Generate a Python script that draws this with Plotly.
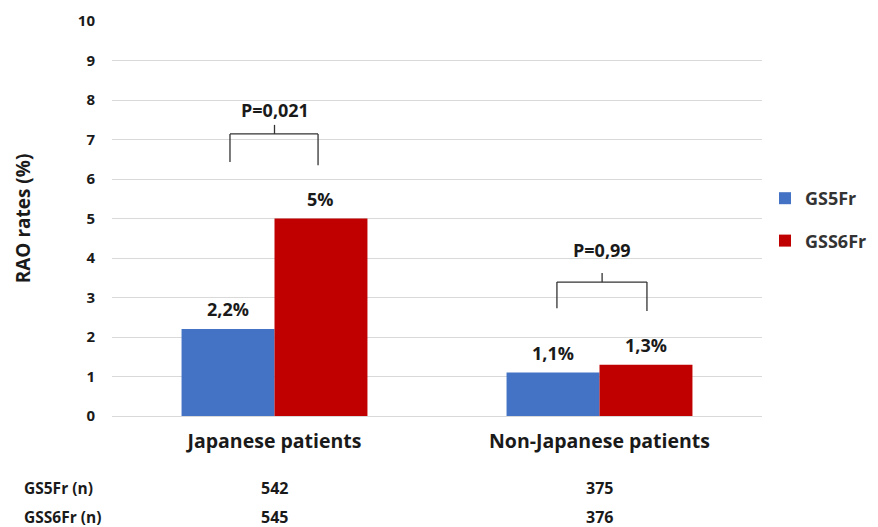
import plotly.graph_objects as go

categories = ["Japanese patients", "Non-Japanese patients"]
gs5fr_rates = [2.2, 1.1]
gss6fr_rates = [5.0, 1.3]
gs5fr_labels = ["2,2%", "1,1%"]
gss6fr_labels = ["5%", "1,3%"]
gs5fr_n = [542, 375]
gss6fr_n = [545, 376]
p_values = ["P=0,021", "P=0,99"]
y_ticks = list(range(0, 11))

FONT = "Open Sans"
TXT = "#1a1a1a"

# page has an 8px body margin; figure sized so it fits the 878x527 window
W, H = 870, 519
L, R, T, B = 104, 116, 13, 111
PH = H - T - B

fig = go.Figure()
fig.add_trace(go.Bar(x=categories, y=gs5fr_rates, name="GS5Fr",
                     marker_color="#4472C4", marker_line_width=0, legendgroup="a"))
fig.add_trace(go.Bar(x=categories, y=gss6fr_rates, name="GSS6Fr",
                     marker_color="#C00000", marker_line_width=0, legendgroup="b"))

# value labels above bars (bar offset within group: +-0.143 category units)
for off, vals, labs in [(-0.143, gs5fr_rates, gs5fr_labels), (0.143, gss6fr_rates, gss6fr_labels)]:
    for i, (v, t) in enumerate(zip(vals, labs)):
        fig.add_annotation(x=i + off, y=v, text=t, showarrow=False, yanchor="bottom",
                           yshift=6, font=dict(family=FONT, size=18, color=TXT, weight="bold"))

# significance brackets
brackets = [
    dict(x0=-0.137, x1=0.134, xm=0.0, yl=6.43, yr=6.35, yh=7.14, yt=7.37, yp=7.75),
    dict(x0=0.869, x1=1.146, xm=1.008, yl=2.73, yr=2.66, yh=3.39, yt=3.62, yp=4.2),
]
for b, p in zip(brackets, p_values):
    line = dict(color="#333333", width=1.3)
    fig.add_shape(type="line", x0=b["x0"], x1=b["x0"], y0=b["yl"], y1=b["yh"], line=line)
    fig.add_shape(type="line", x0=b["x0"], x1=b["x1"], y0=b["yh"], y1=b["yh"], line=line)
    fig.add_shape(type="line", x0=b["x1"], x1=b["x1"], y0=b["yr"], y1=b["yh"], line=line)
    fig.add_shape(type="line", x0=b["xm"], x1=b["xm"], y0=b["yh"], y1=b["yt"], line=line)
    fig.add_annotation(x=b["xm"], y=b["yp"], text=p, showarrow=False,
                       font=dict(family=FONT, size=18, color=TXT, weight="bold"))

# n table
for label, vals, ypix in [("GS5Fr (n)", gs5fr_n, 480), ("GSS6Fr (n)", gss6fr_n, 509)]:
    yp = -(ypix - (T + PH)) / PH
    fig.add_annotation(xref="paper", yref="paper", x=-(L - 14) / 650.0, y=yp,
                       xanchor="left", yanchor="middle", text=label, showarrow=False,
                       font=dict(family=FONT, size=15.5, color=TXT, weight="bold"))
    for i, v in enumerate(vals):
        fig.add_annotation(xref="x", yref="paper", x=i, y=yp, yanchor="middle",
                           text=str(v), showarrow=False,
                           font=dict(family=FONT, size=16, color=TXT, weight="bold"))

fig.update_layout(
    width=W, height=H,
    margin=dict(l=L, r=R, t=T, b=B, autoexpand=False),
    plot_bgcolor="white", paper_bgcolor="white",
    barmode="group", bargap=0.428, bargroupgap=0,
    font=dict(family=FONT, color=TXT),
    showlegend=True,
    legend=dict(xref="container", yref="container", x=757 / W, y=1 - 211.5 / H,
                xanchor="left", yanchor="middle",
                font=dict(family=FONT, size=18, color="#333333", weight="bold"),
                traceorder="grouped", tracegroupgap=16, itemwidth=30),
    xaxis=dict(showgrid=False, showline=True, linecolor="#d9d9d9", linewidth=1,
               automargin=False,
               tickfont=dict(family=FONT, size=19.5, color=TXT, weight="bold"),
               ticks="outside", ticklen=8, tickcolor="rgba(0,0,0,0)"),
    yaxis=dict(range=[0, 10], tickvals=y_ticks, showgrid=True, gridcolor="#d9d9d9",
               zeroline=False, showline=False, automargin=False,
               tickfont=dict(family=FONT, size=15, color=TXT, weight="bold"),
               ticks="outside", ticklen=13, tickcolor="rgba(0,0,0,0)",
               title=dict(text="RAO rates (%)", standoff=42,
                          font=dict(family=FONT, size=19, color=TXT, weight="bold"))),
)

fig.write_html("out.html")
